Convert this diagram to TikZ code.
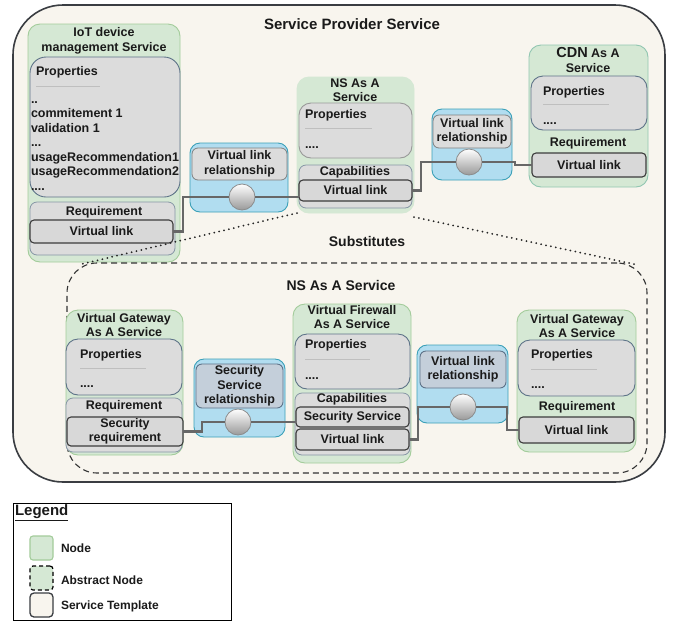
\documentclass[tikz,border=0pt]{standalone}
\usepackage{fontspec}
\setmainfont{Liberation Sans}
\usetikzlibrary{fit}
\definecolor{bgc}{HTML}{F8F5EE}
\definecolor{outl}{HTML}{3A3D42}
\definecolor{grf}{HTML}{D5E8D4}
\definecolor{grd}{HTML}{A3CC9B}
\definecolor{gyf}{HTML}{DCDCDC}
\definecolor{gyd}{HTML}{5E7388}
\definecolor{gyq}{HTML}{8696A5}
\definecolor{vlf}{HTML}{D8D8D8}
\definecolor{vld}{HTML}{3C3C3C}
\definecolor{bf}{HTML}{B1DDF0}
\definecolor{bd}{HTML}{3BA0B8}
\definecolor{bgf}{HTML}{C4CFDA}
\definecolor{cn}{HTML}{676767}
\definecolor{txt}{HTML}{1A1A1A}
\newcommand\rb[7]{\node[#1, minimum width={#4-#2}, minimum height={#5-#3}, anchor=center] (#6) at ({(#2+#4)/2},{(#3+#5)/2}) {#7};}
\begin{document}
\begin{tikzpicture}[x=1pt,y=-1pt,
  every node/.style={font=\bfseries\fontsize{12.5}{14.5}\selectfont, text=txt, inner sep=0pt, outer sep=0pt, align=center},
  gbox/.style={draw=grd, fill=grf, line width=0.9, rounded corners=12},
  pbox/.style={draw=gyd, fill=gyf, line width=0.9, rounded corners=12},
  qbox/.style={draw=gyq, fill=gyf, line width=0.8, rounded corners=7},
  vbox/.style={draw=vld, fill=vlf, line width=1.1, rounded corners=4},
  relbox/.style={draw=bd, fill=bf, line width=0.9, rounded corners=10},
  rint/.style={draw=black!50, fill=gyf, line width=0.8, rounded corners=6},
  rintb/.style={draw=gyd, fill=bgf, line width=0.9, rounded corners=6},
  ball/.style={circle, draw=black!45, line width=0.8, top color=white, bottom color=black!40, minimum size=26},
  conn/.style={draw=cn, line width=2.6},
  sepline/.style={draw=black!25, line width=0.7},
  dotline/.style={draw=black!85, line width=2, line cap=round, dash pattern=on 0pt off 5pt},
  lbl/.style={}]
\useasboundingbox (0,0) rectangle (677,622);
\fill[white] (0,0) rectangle (677,622);

% outer service template
\node[fit={(13,5) (665,482)}, draw=outl, line width=1.6, fill=bgc, rounded corners=50] (sps) {};
\node (spst) at (352,24) {\fontsize{15}{17}\selectfont Service Provider Service};

% IoT device management service
\rb{gbox}{28}{24}{180}{262}{iot}{}
\node (iott) at (104,41) {IoT device\\management Service};
\rb{pbox, rounded corners=16}{30}{57}{180}{197}{iotp}{}
\node[anchor=west] (iotpt) at (36,72) {Properties};
\draw[sepline] (36,86) -- (100,86);
\node[anchor=north west, align=left] (iotlist) at (31,93.5) {\rule{0pt}{9.5pt}..\\commitement 1\\validation 1\\...\\usageRecommendation1\\usageRecommendation2\\....};
\rb{qbox}{30}{202}{175}{255}{iotr}{}
\node (iotrt) at (104,212) {Requirement};
\rb{vbox}{30}{220}{173}{243}{iotvl}{Virtual link}

% relationship 1
\rb{relbox}{190}{143}{288}{212}{r1}{}
\rb{rint}{192}{148}{287}{180}{r1i}{Virtual link\\relationship}
\node[ball] (c1) at (242,197) {};

% NS As A Service (top)
\rb{gbox, draw=grf}{297}{77}{414}{213}{ns}{}
\node (nst) at (355,90) {NS As A\\Service};
\rb{pbox, draw=black!40}{299}{103}{412}{158}{nsp}{}
\node[anchor=west] (nspt) at (305,115) {Properties};
\draw[sepline] (305,128) -- (372,128);
\node[anchor=base west] (nspd) at (305,148) {....};
\rb{qbox}{299}{165}{412}{208}{nsc}{}
\node (nsct) at (355,172.5) {Capabilities};
\rb{vbox}{299}{180}{412}{201}{nsvl}{Virtual link}

% relationship 2
\rb{relbox}{432}{109}{512}{180}{r2}{}
\rb{rint}{433}{115}{511}{148}{r2i}{Virtual link\\relationship}
\node[ball] (c2) at (469,162) {};

% CDN As A Service
\rb{gbox, draw=grd!60!teal!70}{529}{45}{648}{187}{cdn}{}
\node (cdnt) at (588,60) {{\fontsize{14.5}{16}\selectfont CDN} As A\\Service};
\rb{pbox}{531}{76}{647}{130}{cdnp}{}
\node[anchor=west] (cdnpt) at (543,92) {Properties};
\draw[sepline] (543,104) -- (609,104);
\node[anchor=base west] (cdnpd) at (543,124) {....};
\node (cdnrt) at (588,143) {Requirement};
\rb{vbox}{532}{153}{646}{177}{cdnvl}{Virtual link}

% connectors top
\draw[conn] (iotvl.east) -- ++(10,0) |- (c1.west);
\draw[conn] (c1.east) -- (c1.east -| nsvl.west);
\draw[conn] (nsvl.east) -- ++(9,0) |- (c2.west);
\draw[conn] (c2.east) -- ++(33,0) |- (cdnvl.west);

% abstract NS node
\node[fit={(67,263) (647,473)}, draw=black!80, line width=1.1, dash pattern=on 6pt off 4pt, rounded corners=30] (abs) {};
\node (subt) at (367,241) {\fontsize{14}{16}\selectfont Substitutes};
\node (abst) at (341,285) {\fontsize{14}{16}\selectfont NS As A Service};
\coordinate (d1) at (82,264);
\coordinate (d2) at (638,265);
\draw[dotline] (ns.south west) -- (d1);
\draw[dotline] ([yshift=-4pt]ns.south east) -- (d2);

% Virtual Gateway (left)
\rb{gbox}{66}{310}{183}{455}{gw1}{}
\node (gw1t) at (124,325) {Virtual Gateway\\As A Service};
\rb{pbox}{66}{339}{182}{395}{gw1p}{}
\node[anchor=west] (gw1pt) at (80,355) {Properties};
\draw[sepline] (80,368) -- (146,368);
\node[anchor=base west] (gw1pd) at (80,387) {....};
\rb{qbox}{66}{398}{182}{452}{gw1r}{}
\node (gw1rt) at (124,406.5) {Requirement};
\rb{vbox}{67}{417}{183}{446}{secreq}{Security\\requirement}

% Security Service relationship
\rb{relbox}{194}{359}{285}{437}{r3}{}
\rb{rintb}{196}{364}{283}{408}{r3i}{Security\\Service\\relationship}
\node[ball] (c3) at (238,422) {};

% Virtual Firewall
\rb{gbox}{293}{304}{411}{463}{fw}{}
\node (fwt) at (352,317) {Virtual Firewall\\As A Service};
\rb{pbox}{295}{334}{410}{389}{fwp}{}
\node[anchor=west] (fwpt) at (305,345) {Properties};
\draw[sepline] (305,359) -- (370,359);
\node[anchor=base west] (fwpd) at (305,379) {....};
\rb{qbox}{295}{393}{410}{455}{fwc}{}
\node (fwct) at (352,399.5) {Capabilities};
\rb{vbox}{296}{407}{409}{427}{fwsec}{Security Service}
\rb{vbox}{296}{429}{409}{450}{fwvl}{Virtual link}

% relationship 4
\rb{relbox}{417}{345}{508}{423}{r4}{}
\rb{rintb}{420}{351}{506}{388}{r4i}{Virtual link\\relationship}
\node[ball] (c4) at (463,407) {};

% Virtual Gateway (right)
\rb{gbox}{517}{310}{636}{452}{gw2}{}
\node (gw2t) at (577,326) {Virtual Gateway\\As A Service};
\rb{pbox}{518}{340}{635}{396}{gw2p}{}
\node[anchor=west] (gw2pt) at (531,355) {Properties};
\draw[sepline] (531,369) -- (597,369);
\node[anchor=base west] (gw2pd) at (531,388) {....};
\node (gw2rt) at (577,407) {Requirement};
\rb{vbox}{519}{417}{634}{443}{gw2vl}{Virtual link}

% connectors bottom
\draw[conn] (secreq.east) -- ++(19,0) |- (c3.west);
\draw[conn] (c3.east) -- (c3.east -| fwsec.west);
\draw[conn] (fwvl.east) -- ++(9,0) |- (c4.west);
\draw[conn] (c4.east) -- ++(31,0) |- (gw2vl.west);

% legend
\node[fit={(13,503) (231,620)}, draw=black, line width=0.8] (leg) {};
\node[anchor=west] (legt) at (15,513) {\fontsize{15}{17}\selectfont\underline{Legend}};
\rb{draw=grd, fill=grf, line width=1.1, rounded corners=3}{30}{536}{53}{560}{lg1}{}
\rb{draw=black, fill=grf, line width=1.2, dash pattern=on 4pt off 3pt, rounded corners=3}{30}{566}{53}{590}{lg2}{}
\rb{draw=outl, fill=bgc, line width=1.3, rounded corners=4}{30}{593}{53}{617}{lg3}{}
\node[anchor=west] (lg1t) at (61,548) {\fontsize{12}{14}\selectfont Node};
\node[anchor=west] (lg2t) at (61,580) {\fontsize{12}{14}\selectfont Abstract Node};
\node[anchor=west] (lg3t) at (61,606) {\fontsize{12}{14}\selectfont Service Template};
\end{tikzpicture}
\end{document}
